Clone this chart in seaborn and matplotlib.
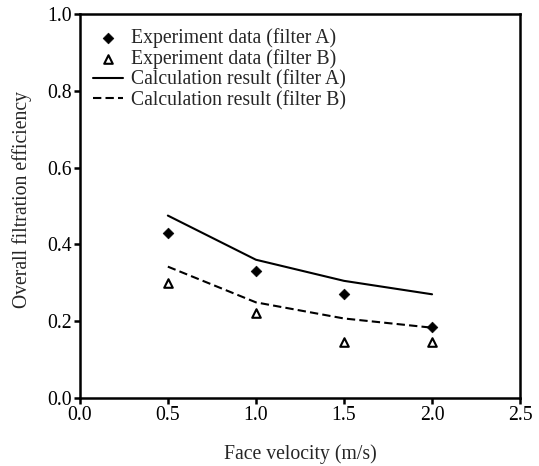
import pandas as pd
import matplotlib
matplotlib.use('Agg')
import matplotlib.pyplot as plt
import seaborn as sns

# Values
velocity = [0.5, 1.0, 1.5, 2.0]
exp_a = [0.43, 0.33, 0.27, 0.185]
exp_b = [0.30, 0.22, 0.145, 0.145]
calc_a = [0.475, 0.36, 0.305, 0.27]
calc_b = [0.342, 0.249, 0.207, 0.183]

df = pd.DataFrame({'velocity': velocity, 'exp_a': exp_a, 'exp_b': exp_b,
                   'calc_a': calc_a, 'calc_b': calc_b})

sns.set_style('ticks')
plt.rcParams['font.family'] = ['Liberation Serif', 'DejaVu Serif']
fs = 14.2

fig = plt.figure(figsize=(5.39, 4.66), dpi=100)
ax = fig.add_axes([0.148, 0.146, 0.817, 0.824])

sns.scatterplot(data=df, x='velocity', y='exp_a', ax=ax, marker='D', s=30,
                color='black', edgecolor='black', label='Experiment data (filter A)')
sns.scatterplot(data=df, x='velocity', y='exp_b', ax=ax, marker='^', s=38,
                facecolor='white', edgecolor='black', linewidth=1.5,
                label='Experiment data (filter B)')
sns.lineplot(data=df, x='velocity', y='calc_a', ax=ax, color='black',
             linewidth=1.5, label='Calculation result (filter A)')
sns.lineplot(data=df, x='velocity', y='calc_b', ax=ax, color='black',
             linewidth=1.5, linestyle=(0, (4, 2)), label='Calculation result (filter B)')

ax.set_xlim(0, 2.5)
ax.set_ylim(0, 1.0)
ax.set_xticks([0.0, 0.5, 1.0, 1.5, 2.0, 2.5])
ax.set_yticks([0.0, 0.2, 0.4, 0.6, 0.8, 1.0])
ax.xaxis.set_major_formatter(matplotlib.ticker.FormatStrFormatter('%.1f'))
ax.yaxis.set_major_formatter(matplotlib.ticker.FormatStrFormatter('%.1f'))
ax.tick_params(direction='out', length=4, width=1.8, labelsize=fs, colors='black', pad=2)
for s in ax.spines.values():
    s.set_linewidth(1.8)
    s.set_color('black')

ax.set_xlabel('Face velocity (m/s)', fontsize=fs, labelpad=14)
ax.set_ylabel('Overall filtration efficiency', fontsize=fs)
ax.yaxis.set_label_coords(-0.108, 0.516)

ax.legend(loc='upper left', bbox_to_anchor=(0.03, 0.962), frameon=False, fontsize=fs,
          handlelength=1.5, handletextpad=0.45, labelspacing=0.05,
          borderaxespad=0.0, borderpad=0.0)

fig.savefig('out.png', dpi=100)
